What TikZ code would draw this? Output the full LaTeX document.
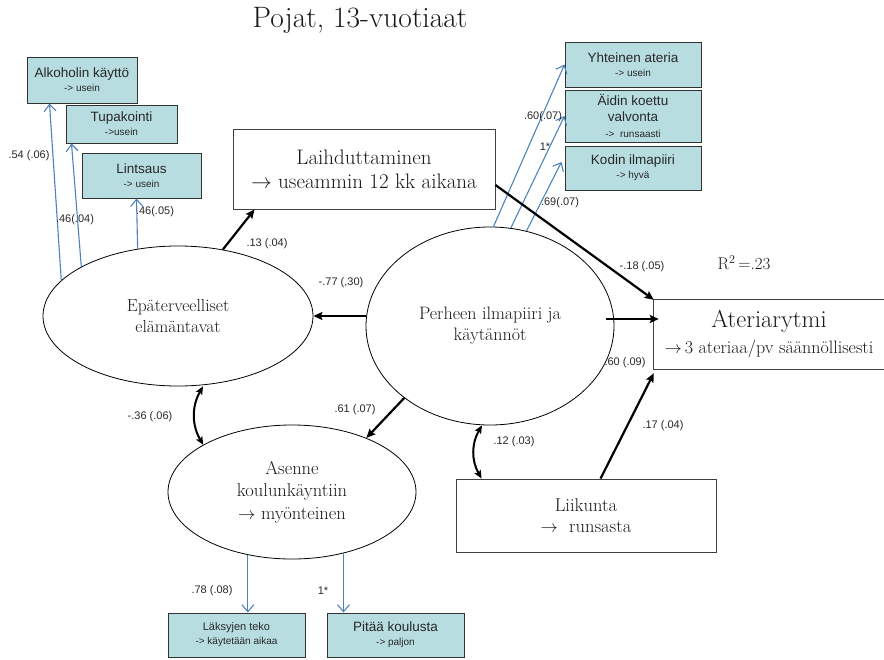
\documentclass[tikz,border=0pt]{standalone}
\usepackage{fontspec}
\setsansfont{Liberation Sans}
\usetikzlibrary{arrows.meta,shapes.geometric}
\definecolor{tealbox}{RGB}{183,221,224}
\definecolor{bluearr}{RGB}{79,129,189}
\definecolor{txt}{RGB}{40,40,40}
\definecolor{stxt}{RGB}{25,25,25}
\newcommand\myfs[2]{\fontsize{#1}{#2}\selectfont}
\begin{document}
\begin{tikzpicture}[x=1pt,y=-1pt,
  tbox/.style={draw=black!80, line width=1pt, fill=tealbox, font=\sffamily\myfs{10}{14}, align=center, inner sep=0pt, text=txt},
  wbox/.style={draw=black!75, line width=0.9pt, align=center, inner sep=0pt, text=stxt},
  lat/.style={ellipse, draw=black, line width=0.8pt, align=center, inner sep=0pt, text=stxt},
  blk/.style={line width=2.2pt, -{Stealth[length=9pt,width=8pt,inset=1.5pt]}},
  dbl/.style={line width=2pt, {Stealth[length=8pt,width=7pt,inset=1.5pt]}-{Stealth[length=8pt,width=7pt,inset=1.5pt]}, bend right=30},
  blu/.style={bluearr, line width=1.1pt, -{Straight Barb[length=7pt,width=12pt]}},
  lab/.style={font=\sffamily\myfs{11}{13}, text=txt, inner sep=0pt},
]
\useasboundingbox (0,0) rectangle (884,659);

% title
\node[text=stxt, font=\myfs{29.5}{33}] (title) at (360,20) {Pojat, 13-vuotiaat};

% white boxes
\node[wbox, minimum width=262pt, minimum height=80pt, font=\myfs{21}{24}] (laih) at (364,169) {Laihduttaminen\\$\rightarrow$ useammin 12 kk aikana};
\node[align=center, minimum width=230pt, minimum height=69pt, inner sep=0pt, text=stxt, font=\myfs{18}{25}] (ater) at (769,334.5) {{\myfs{24.5}{25}Ateriarytmi}\\[1pt]$\rightarrow$\,3 ateriaa/pv säännöllisesti};
\draw[line width=0.9pt, black!75] (ater.north east) -- (ater.north west) -- (ater.south west) -- (ater.south east);
\node[wbox, minimum width=260pt, minimum height=73pt, font=\myfs{18.5}{21}] (liik) at (586,515.5) {Liikunta\\$\rightarrow$\ \ runsasta};

% latent ellipses
\node[lat, minimum width=270pt, minimum height=140pt, font=\myfs{17.5}{20.5}] (epa) at (178,316) {Epäterveelliset\\elämäntavat};
\node[lat, minimum width=248pt, minimum height=198pt, font=\myfs{18}{21}] (per) at (490,326) {Perheen ilmapiiri ja\\käytännöt};
\node[lat, minimum width=248pt, minimum height=134pt, font=\myfs{18.5}{22.5}] (ase) at (292,492) {Asenne\\koulunkäyntiin\\$\rightarrow$ myönteinen};

% teal indicator boxes
\node[tbox, minimum width=110pt, minimum height=46pt] (alk) at (82,80) {{\myfs{13.5}{16}Alkoholin käyttö}\\-> usein};
\node[tbox, minimum width=111pt, minimum height=38pt] (tup) at (121.5,124) {{\myfs{13.5}{16}Tupakointi}\\->usein};
\node[tbox, minimum width=119pt, minimum height=45pt] (lin) at (141.5,175.5) {{\myfs{13.5}{16}Lintsaus}\\-> usein};
\node[tbox, minimum width=136pt, minimum height=45pt] (yht) at (633,64.5) {{\myfs{13.5}{16}Yhteinen ateria}\\-> usein};
\node[tbox, minimum width=136pt, minimum height=52pt, font=\sffamily\myfs{13.5}{16}] (aid) at (633,116) {Äidin koettu\\valvonta\\{\myfs{10}{14}->\ \ runsaasti}};
\node[tbox, minimum width=136pt, minimum height=44pt] (kod) at (633,168) {{\myfs{13.5}{16}Kodin ilmapiiri}\\-> hyvä};
\node[tbox, minimum width=137pt, minimum height=44pt] (lak) at (236.5,635) {{\myfs{11}{14}Läksyjen teko}\\-> käytetään aikaa};
\node[tbox, minimum width=137pt, minimum height=44pt] (pit) at (395.5,635) {{\myfs{13.5}{16}Pitää koulusta}\\-> paljon};

% blue measurement arrows
\draw[blu] (epa.163) -- ([xshift=23pt]alk.south west);
\draw[blu] (epa.153) -- ([xshift=6pt]tup.south west);
\draw[blu] (epa.121) -- ([xshift=55pt]lin.south west);
\draw[blu] (per.88) -- (yht.west);
\draw[blu] (per.78) -- (aid.west);
\draw[blu] (per.69) -- ([xshift=-3pt,yshift=6pt]kod.west);
\draw[blu] (ase.235) -- (ase.235 |- lak.north);
\draw[blu] (ase.310) -- (ase.310 |- pit.north);

% black structural arrows
\draw[blk] (epa.56) -- ([xshift=22pt]laih.south west);
\draw[blk] (per.west |- epa.east) -- (epa.east);
\draw[blk] ([xshift=-8pt,yshift=7pt]per.east) -- ([xshift=5pt,yshift=7pt]per.east -| ater.west);
\draw[blk] ([yshift=-16pt]laih.east) -- (ater.north west);
\draw[blk] ([xshift=145pt]liik.north west) -- ([yshift=-4pt]ater.south west);
\draw[blk] (per.220) -- (ase.36);
\draw[dbl] ([xshift=25pt]epa.south) to (ase.152);
\draw[dbl] ([xshift=-8pt]per.south) to ([xshift=26pt]liik.north west);

% coefficient labels
\node[lab] (l1) at (29,156) {.54 (.06)};
\node[lab] (l2) at (75,220) {.46(.04)};
\node[lab] (l3) at (155,212) {.46(.05)};
\node[lab] (l4) at (267,244) {.13 (.04)};
\node[lab] (l5) at (341,283) {-.77 (,30)};
\node[lab] (l6) at (543,117) {.60(.07)};
\node[lab] (l7) at (545,147) {1*};
\node[lab] (l8) at (560,203) {.69(.07)};
\node[lab] (l9) at (642,267) {-.18 (.05)};
\node[lab] (l10) at (625,363) {.60 (.09)};
\node[lab] (l11) at (663,426) {.17 (.04)};
\node[lab] (l12) at (355,410) {.61 (.07)};
\node[lab] (l13) at (150,417) {-.36 (.06)};
\node[lab] (l14) at (514,442) {.12 (.03)};
\node[lab] (l15) at (212,591) {.78 (.08)};
\node[lab] (l16) at (323,591) {1*};
\node[text=stxt, font=\myfs{17}{19}] (r2) at (744,263) {R$^2$\,=.23};
\end{tikzpicture}
\end{document}
